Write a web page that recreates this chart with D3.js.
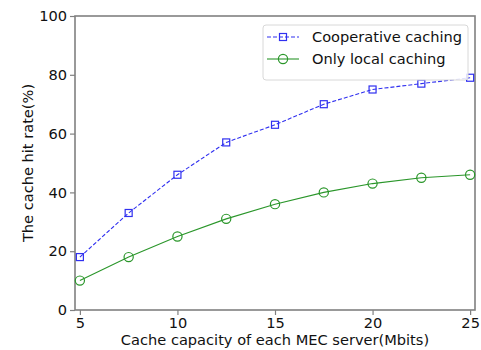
<!DOCTYPE html>
<html>
<head>
<meta charset="utf-8">
<script src="https://cdn.jsdelivr.net/npm/d3@7/dist/d3.min.js"></script>
<style>
  html, body { margin: 0; padding: 0; background: #fff; }
  svg { display: block; font-family: "DejaVu Sans", sans-serif; }
</style>
</head>
<body>
<svg id="chart" width="481" height="350"></svg>
<script>
// Cache capacity per MEC server (Mbits)
const capacity = [5, 7.5, 10, 12.5, 15, 17.5, 20, 22.5, 25];
// Hit rate (%) for each strategy
const cooperative = [18, 33, 46, 57, 63, 70, 75, 77, 79];
const localOnly = [10, 18, 25, 31, 36, 40, 43, 45, 46];
const seriesNames = ["Cooperative caching", "Only local caching"];
const xTicks = [5, 10, 15, 20, 25];
const yTicks = [0, 20, 40, 60, 80, 100];

const svg = d3.select("#chart");
const plotLeft = 75, plotRight = 475, plotTop = 16, plotBottom = 310;
const spine = "#808080";
const fontSize = "14.6px";

const x = d3.scaleLinear().domain([4.75, 25.25]).range([plotLeft, plotRight]);
const y = d3.scaleLinear().domain([0, 100]).range([plotBottom, plotTop]);

// Axes
const xAxis = svg.append("g").attr("transform", `translate(0,${plotBottom})`)
  .call(d3.axisBottom(x).tickValues(xTicks).tickSize(5).tickPadding(3).tickFormat(d3.format("d")));
const yAxis = svg.append("g").attr("transform", `translate(${plotLeft},0)`)
  .call(d3.axisLeft(y).tickValues(yTicks).tickSize(5).tickPadding(3).tickFormat(d3.format("d")));
[xAxis, yAxis].forEach(g => {
  g.select(".domain").remove();
  g.selectAll(".tick line").attr("stroke", spine).attr("stroke-width", 1.2);
  g.selectAll(".tick text").attr("fill", "#111").style("font-size", fontSize)
    .style("font-family", "DejaVu Sans, sans-serif");
});

// Frame
svg.append("rect").attr("x", plotLeft).attr("y", plotTop)
  .attr("width", plotRight - plotLeft).attr("height", plotBottom - plotTop)
  .attr("fill", "none").attr("stroke", spine).attr("stroke-width", 1.6);

// Axis titles
svg.append("text").attr("x", (plotLeft + plotRight) / 2).attr("y", 345)
  .attr("text-anchor", "middle").style("font-size", fontSize).attr("fill", "#111")
  .text("Cache capacity of each MEC server(Mbits)");
svg.append("text").attr("transform", `translate(33,${(plotTop + plotBottom) / 2}) rotate(-90)`)
  .attr("text-anchor", "middle").style("font-size", fontSize).attr("fill", "#111")
  .text("The cache hit rate(%)");

const blue = "#3030f0", green = "#2a962a";
const line = d3.line().x(d => x(d[0])).y(d => y(d[1]));

const coopPts = capacity.map((c, i) => [c, cooperative[i]]);
const localPts = capacity.map((c, i) => [c, localOnly[i]]);

svg.append("path").datum(coopPts).attr("d", line).attr("fill", "none")
  .attr("stroke", blue).attr("stroke-width", 1.1).attr("stroke-dasharray", "4,2");
svg.selectAll(".sq").data(coopPts).enter().append("rect")
  .attr("x", d => x(d[0]) - 3.5).attr("y", d => y(d[1]) - 3.5)
  .attr("width", 7).attr("height", 7)
  .attr("fill", "none").attr("stroke", blue).attr("stroke-width", 1.2);

svg.append("path").datum(localPts).attr("d", line).attr("fill", "none")
  .attr("stroke", green).attr("stroke-width", 1.1);
svg.selectAll(".ci").data(localPts).enter().append("circle")
  .attr("cx", d => x(d[0])).attr("cy", d => y(d[1])).attr("r", 4.6)
  .attr("fill", "none").attr("stroke", green).attr("stroke-width", 1.2);

// Legend
const lg = svg.append("g");
lg.append("rect").attr("x", 263).attr("y", 25).attr("width", 205).attr("height", 55)
  .attr("rx", 3).attr("fill", "#fff").attr("fill-opacity", 0.85)
  .attr("stroke", "#d8d8d8").attr("stroke-width", 1);
const items = [
  { name: seriesNames[0], color: blue, dash: "4,2", shape: "square" },
  { name: seriesNames[1], color: green, dash: null, shape: "circle" }
];
items.forEach((it, i) => {
  const cy = 37 + i * 22;
  lg.append("line").attr("x1", 267).attr("x2", 299).attr("y1", cy).attr("y2", cy)
    .attr("stroke", it.color).attr("stroke-width", 1.1)
    .attr("stroke-dasharray", it.dash);
  if (it.shape === "square") {
    lg.append("rect").attr("x", 283 - 3.5).attr("y", cy - 3.5).attr("width", 7).attr("height", 7)
      .attr("fill", "none").attr("stroke", it.color).attr("stroke-width", 1.2);
  } else {
    lg.append("circle").attr("cx", 283).attr("cy", cy).attr("r", 4.6)
      .attr("fill", "none").attr("stroke", it.color).attr("stroke-width", 1.2);
  }
  lg.append("text").attr("x", 312).attr("y", cy + 5).style("font-size", fontSize)
    .attr("fill", "#111").text(it.name);
});
</script>
</body>
</html>
